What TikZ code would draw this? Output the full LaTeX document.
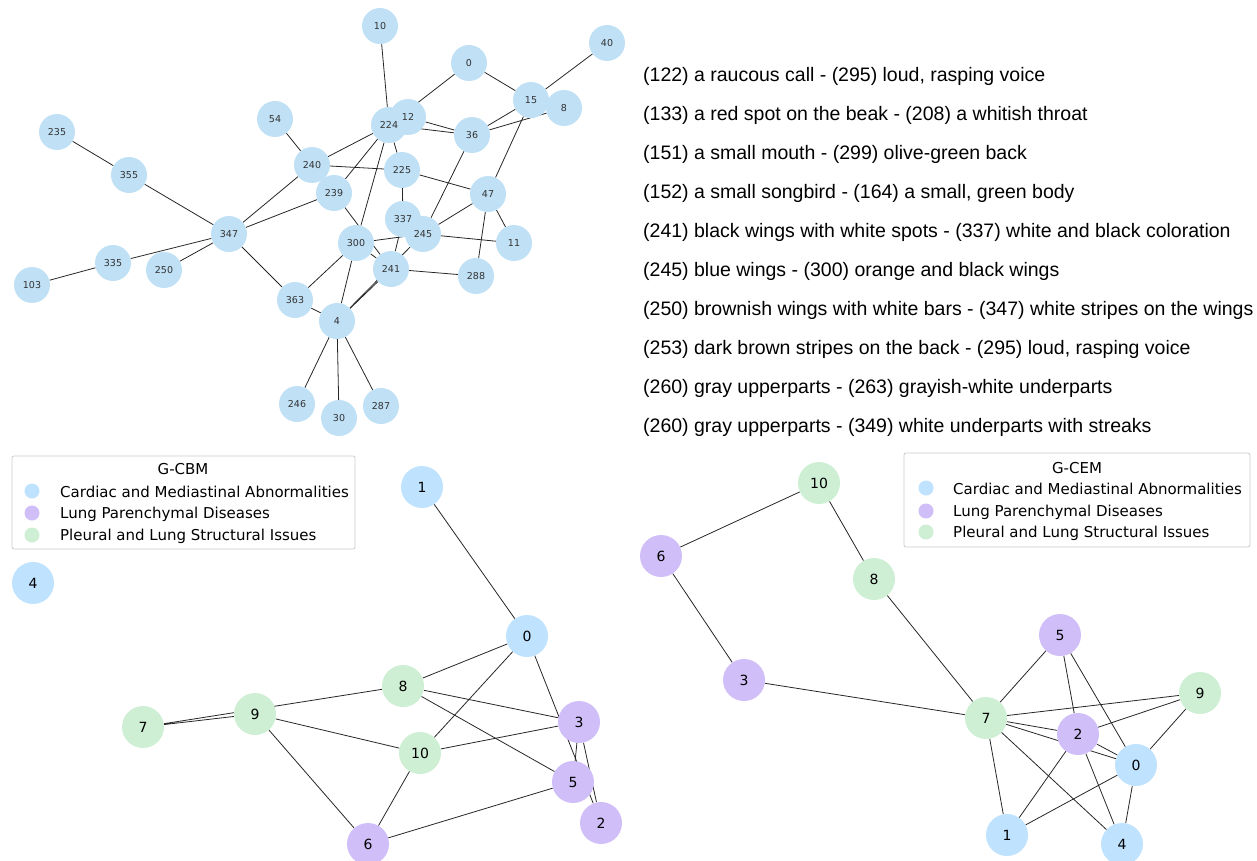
\documentclass[tikz,border=0pt]{standalone}
\usepackage{fontspec}
\setmainfont{DejaVu Sans}
\newfontfamily\arialfont{Liberation Sans}
\usetikzlibrary{positioning}
\pgfdeclarelayer{edges}
\pgfdeclarelayer{discs}
\pgfsetlayers{edges,discs,main}
\definecolor{topblue}{RGB}{191,224,245}
\definecolor{cblue}{RGB}{191,226,255}
\definecolor{cpurple}{RGB}{208,190,248}
\definecolor{cgreen}{RGB}{206,239,212}

\begin{document}
\begin{tikzpicture}[x=1pt, y=-1pt,
  tnode/.style={circle, minimum size=36pt, inner sep=0pt, font=\fontsize{9.5}{9.5}\selectfont, text=black!80},
  gnode/.style={circle, minimum size=42pt, inner sep=0pt, font=\fontsize{14}{14}\selectfont, text=black},
  edge/.style={draw=black!85, line width=0.8pt},
  pair/.style={font=\arialfont\fontsize{19.5}{19.5}\selectfont, anchor=west, inner sep=0pt},
  legbox/.style={draw=black!20, line width=0.8pt, rounded corners=2pt, fill=white},
  legtext/.style={font=\fontsize{15}{15}\selectfont, anchor=west, inner sep=0pt},
  legdot/.style={circle, minimum size=15pt, inner sep=0pt},
]
\useasboundingbox (0,0) rectangle (1257,861);

% ======================= Top graph: concept pairs =======================
\node[tnode] (t10) at (380,26) {10};
\node[tnode] (t0) at (469,63) {0};
\node[tnode] (t40) at (607,43) {40};
\node[tnode] (t15) at (531,100) {15};
\node[tnode] (t8) at (564,108) {8};
\node[tnode] (t235) at (57,132) {235};
\node[tnode] (t54) at (275,119) {54};
\node[tnode] (t12) at (408,117) {12};
\node[tnode] (t224) at (389,125) {224};
\node[tnode] (t36) at (472,135) {36};
\node[tnode] (t355) at (129,175) {355};
\node[tnode] (t240) at (312,165) {240};
\node[tnode] (t225) at (402,170) {225};
\node[tnode] (t239) at (334,193) {239};
\node[tnode] (t47) at (488,194) {47};
\node[tnode] (t347) at (229,234) {347};
\node[tnode] (t337) at (403,219) {337};
\node[tnode] (t245) at (423,234) {245};
\node[tnode] (t300) at (356,243) {300};
\node[tnode] (t11) at (514,243) {11};
\node[tnode] (t335) at (113,263) {335};
\node[tnode] (t250) at (164,270) {250};
\node[tnode] (t241) at (391,269) {241};
\node[tnode] (t288) at (476,276) {288};
\node[tnode] (t103) at (32,285) {103};
\node[tnode] (t363) at (295,300) {363};
\node[tnode] (t4) at (337,321) {4};
\node[tnode] (t246) at (297,404) {246};
\node[tnode] (t30) at (339,418) {30};
\node[tnode] (t287) at (381,406) {287};

\begin{pgfonlayer}{discs}
\foreach \n in {t10,t0,t40,t15,t8,t235,t54,t12,t224,t36,t355,t240,t225,t239,t47,
  t347,t337,t245,t300,t11,t335,t250,t241,t288,t103,t363,t4,t246,t30,t287}
  \fill[topblue] (\n.center) circle[radius=18];
\end{pgfonlayer}

\begin{pgfonlayer}{edges}
\draw[edge] (t10) -- (t224) (t224) -- (t0) (t0) -- (t15) (t40) -- (t15);
\draw[edge] (t15) -- (t36) (t8) -- (t36) (t15) -- (t47) (t54) -- (t240);
\draw[edge] (t235) -- (t355) (t355) -- (t347) (t224) -- (t240) (t224) -- (t239);
\draw[edge] (t224) -- (t300) (t224) -- (t225) (t12) -- (t36) (t224) -- (t36);
\draw[edge] (t240) -- (t225) (t240) -- (t347) (t239) -- (t347) (t239) -- (t241);
\draw[edge] (t300) -- (t241) (t300) -- (t245) (t337) -- (t225) (t337) -- (t241);
\draw[edge] (t245) -- (t36) (t245) -- (t47) (t245) -- (t11) (t225) -- (t47);
\draw[edge] (t47) -- (t11) (t47) -- (t288) (t241) -- (t288) (t300) -- (t363);
\draw[edge] (t300) -- (t4) (t363) -- (t347) (t363) -- (t4) (t4) -- (t241);
\draw[edge] (t4) -- (t245) (t4) -- (t246) (t4) -- (t30) (t4) -- (t287);
\draw[edge] (t347) -- (t335) (t335) -- (t103) (t347) -- (t250);
\end{pgfonlayer}

% ======================= Concept pair list =======================
\node[pair] (p1) at (643,76.5) {(122) a raucous call - (295) loud, rasping voice};
\node[pair] (p2) at (643,115.5) {(133) a red spot on the beak - (208) a whitish throat};
\node[pair] (p3) at (643,154.5) {(151) a small mouth - (299) olive-green back};
\node[pair] (p4) at (643,193.5) {(152) a small songbird - (164) a small, green body};
\node[pair] (p5) at (643,232.5) {(241) black wings with white spots - (337) white and black coloration};
\node[pair] (p6) at (643,271.5) {(245) blue wings - (300) orange and black wings};
\node[pair] (p7) at (643,310.5) {(250) brownish wings with white bars - (347) white stripes on the wings};
\node[pair] (p8) at (643,349.5) {(253) dark brown stripes on the back - (295) loud, rasping voice};
\node[pair] (p9) at (643,388.5) {(260) gray upperparts - (263) grayish-white underparts};
\node[pair] (p10) at (643,427.5) {(260) gray upperparts - (349) white underparts with streaks};

% ======================= G-CBM =======================
\node[gnode] (l1) at (422,487) {1};
\node[gnode] (l4) at (33,583) {4};
\node[gnode] (l0) at (527,636) {0};
\node[gnode] (l8) at (403,686) {8};
\node[gnode] (l9) at (255,714) {9};
\node[gnode] (l7) at (143,727) {7};
\node[gnode] (l3) at (579,722) {3};
\node[gnode] (l10) at (420,753) {10};
\node[gnode] (l5) at (573,782) {5};
\node[gnode] (l2) at (601,823) {2};
\node[gnode] (l6) at (368,844) {6};

\begin{pgfonlayer}{discs}
\foreach \n in {l1,l4,l0} \fill[cblue] (\n.center) circle[radius=21];
\foreach \n in {l3,l5,l2,l6} \fill[cpurple] (\n.center) circle[radius=21];
\foreach \n in {l8,l9,l7,l10} \fill[cgreen] (\n.center) circle[radius=21];
\end{pgfonlayer}

\begin{pgfonlayer}{edges}
\draw[edge] (l1) -- (l0) (l0) -- (l8) (l0) -- (l10) (l0) -- (l2);
\draw[edge] (l3) -- (l5) (l3) -- (l2) (l7) -- (l9) (l7) -- (l8);
\draw[edge] (l8) -- (l3) (l8) -- (l5) (l9) -- (l10) (l9) -- (l6);
\draw[edge] (l10) -- (l3) (l10) -- (l6) (l6) -- (l5);
\end{pgfonlayer}

\draw[legbox] (12,456) rectangle (355,549);
\node[font=\fontsize{15}{15}\selectfont] (lhead) at (183,469) {G-CBM};
\node[legdot, fill=cblue] (ld1) at (32,491) {};
\node[legdot, fill=cpurple] (ld2) at (32,513) {};
\node[legdot, fill=cgreen] (ld3) at (32,535) {};
\node[legtext] (lt1) at (60,492) {Cardiac and Mediastinal Abnormalities};
\node[legtext] (lt2) at (60,514) {Lung Parenchymal Diseases};
\node[legtext] (lt3) at (60,536) {Pleural and Lung Structural Issues};

% ======================= G-CEM =======================
\node[gnode] (r10) at (819,483) {10};
\node[gnode] (r6) at (661,556) {6};
\node[gnode] (r8) at (874,579) {8};
\node[gnode] (r5) at (1060,635) {5};
\node[gnode] (r3) at (744,680) {3};
\node[gnode] (r9) at (1200,693) {9};
\node[gnode] (r7) at (986,718) {7};
\node[gnode] (r2) at (1078,734) {2};
\node[gnode] (r0) at (1136,765) {0};
\node[gnode] (r1) at (1007,835) {1};
\node[gnode] (r4) at (1122,844) {4};

\begin{pgfonlayer}{discs}
\foreach \n in {r0,r1,r4} \fill[cblue] (\n.center) circle[radius=21];
\foreach \n in {r6,r3,r5,r2} \fill[cpurple] (\n.center) circle[radius=21];
\foreach \n in {r10,r8,r9,r7} \fill[cgreen] (\n.center) circle[radius=21];
\end{pgfonlayer}

\begin{pgfonlayer}{edges}
\draw[edge] (r6) -- (r10) (r10) -- (r8) (r8) -- (r7) (r6) -- (r3) (r3) -- (r7);
\draw[edge] (r7) -- (r5) (r7) -- (r9) (r7) -- (r2) (r7) -- (r0) (r7) -- (r1);
\draw[edge] (r7) -- (r4) (r5) -- (r2) (r5) -- (r0) (r9) -- (r2) (r9) -- (r0);
\draw[edge] (r2) -- (r0) (r2) -- (r1) (r2) -- (r4) (r0) -- (r1) (r0) -- (r4);
\end{pgfonlayer}

\draw[legbox] (904,453) rectangle (1250,547);
\node[font=\fontsize{15}{15}\selectfont] (rhead) at (1077,468) {G-CEM};
\node[legdot, fill=cblue] (rd1) at (926,488) {};
\node[legdot, fill=cpurple] (rd2) at (926,511) {};
\node[legdot, fill=cgreen] (rd3) at (926,532) {};
\node[legtext] (rt1) at (953,489) {Cardiac and Mediastinal Abnormalities};
\node[legtext] (rt2) at (953,512) {Lung Parenchymal Diseases};
\node[legtext] (rt3) at (953,533) {Pleural and Lung Structural Issues};

\end{tikzpicture}
\end{document}
